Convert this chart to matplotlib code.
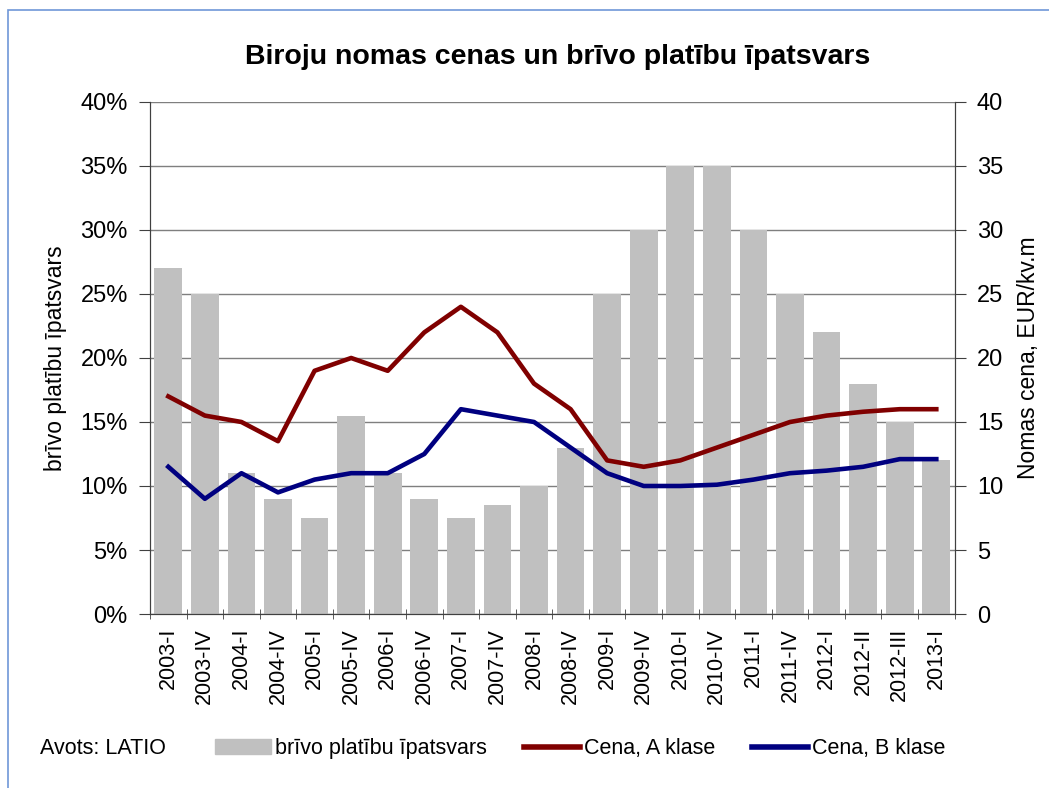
import numpy as np
import matplotlib
matplotlib.use("Agg")
import matplotlib.pyplot as plt
from matplotlib.patches import Rectangle, Patch
from matplotlib.lines import Line2D

plt.rcParams['font.family'] = ['Liberation Sans', 'DejaVu Sans']

periods = ["2003-I", "2003-IV", "2004-I", "2004-IV", "2005-I", "2005-IV",
           "2006-I", "2006-IV", "2007-I", "2007-IV", "2008-I", "2008-IV",
           "2009-I", "2009-IV", "2010-I", "2010-IV", "2011-I", "2011-IV",
           "2012-I", "2012-II", "2012-III", "2013-I"]
vacancy = [27, 25, 11, 9, 7.5, 15.5, 11, 9, 7.5, 8.5, 10, 13,
           25, 30, 35, 35, 30, 25, 22, 18, 15, 12]
price_a = [17, 15.5, 15, 13.5, 19, 20, 19, 22, 24, 22, 18, 16,
           12, 11.5, 12, 13, 14, 15, 15.5, 15.8, 16, 16]
price_b = [11.5, 9, 11, 9.5, 10.5, 11, 11, 12.5, 16, 15.5, 15, 13,
           11, 10, 10, 10.1, 10.5, 11, 11.2, 11.5, 12.1, 12.1]

bar_color = "#C0C0C0"
col_a = "#800000"
col_b = "#000080"
grid_col = "#7F7F7F"

fig = plt.figure(figsize=(10.49, 7.88), dpi=100)
ax = fig.add_axes([0.143, 0.2208, 0.767, 0.6498])
x = np.arange(len(periods))

ax.bar(x, vacancy, width=0.76, color=bar_color, zorder=2)
ax.set_xlim(-0.5, len(periods) - 0.5)
ax.set_ylim(0, 40)
ax.set_yticks(np.arange(0, 41, 5))
ax.set_yticklabels([f"{v}%" for v in range(0, 41, 5)], fontsize=17)
ax.yaxis.grid(True, color=grid_col, linewidth=1.0, zorder=1)
ax.set_axisbelow(True)
ax.set_xticks(x)
ax.set_xticklabels(periods, rotation=90, fontsize=15.5)
ax.set_xticks(np.arange(-0.5, len(periods), 1), minor=True)
ax.tick_params(axis='x', which='major', length=0, pad=10)
ax.tick_params(axis='x', which='minor', length=7, direction='inout', color='#404040')
ax.tick_params(axis='y', length=8, direction='out', color='#404040', pad=8)
ax.set_ylabel("brīvo platību īpatsvars", fontsize=16.5, labelpad=10)
ax.spines['top'].set_visible(False)
for s in ['left', 'right', 'bottom']:
    ax.spines[s].set_color('#404040')

ax2 = ax.twinx()
ax2.plot(x, price_a, color=col_a, linewidth=3.3, zorder=3)
ax2.plot(x, price_b, color=col_b, linewidth=3.3, zorder=3)
ax2.set_ylim(0, 40)
ax2.set_yticks(np.arange(0, 41, 5))
ax2.set_yticklabels([str(v) for v in range(0, 41, 5)], fontsize=17)
ax2.tick_params(axis='y', length=8, direction='out', color='#404040', pad=8)
ax2.set_ylabel("Nomas cena, EUR/kv.m", fontsize=16.5, labelpad=10)
ax2.spines['top'].set_visible(False)
for s in ['left', 'right', 'bottom']:
    ax2.spines[s].set_color('#404040')

fig.text(0.532, 0.928, "Biroju nomas cenas un brīvo platību īpatsvars",
         ha='center', va='center', fontsize=20.5, fontweight='bold')

fig.text(0.038, 0.05, "Avots: LATIO", fontsize=15.5, va='center')
handles = [Patch(color=bar_color, label="brīvo platību īpatsvars"),
           Line2D([], [], color=col_a, linewidth=4, label="Cena, A klase"),
           Line2D([], [], color=col_b, linewidth=4, label="Cena, B klase")]
fig.legend(handles=handles, loc='center', bbox_to_anchor=(0.553, 0.05), ncol=3,
           frameon=False, fontsize=15.5, handlelength=2.6, handletextpad=0.2,
           columnspacing=1.7)

fig.patches.append(Rectangle((8 / 1049, -0.1), 1.2, 1 - 10 / 788 + 0.1,
                             transform=fig.transFigure, fill=False,
                             edgecolor='#6F97D8', linewidth=1.2))

fig.savefig("out.png", dpi=100)
